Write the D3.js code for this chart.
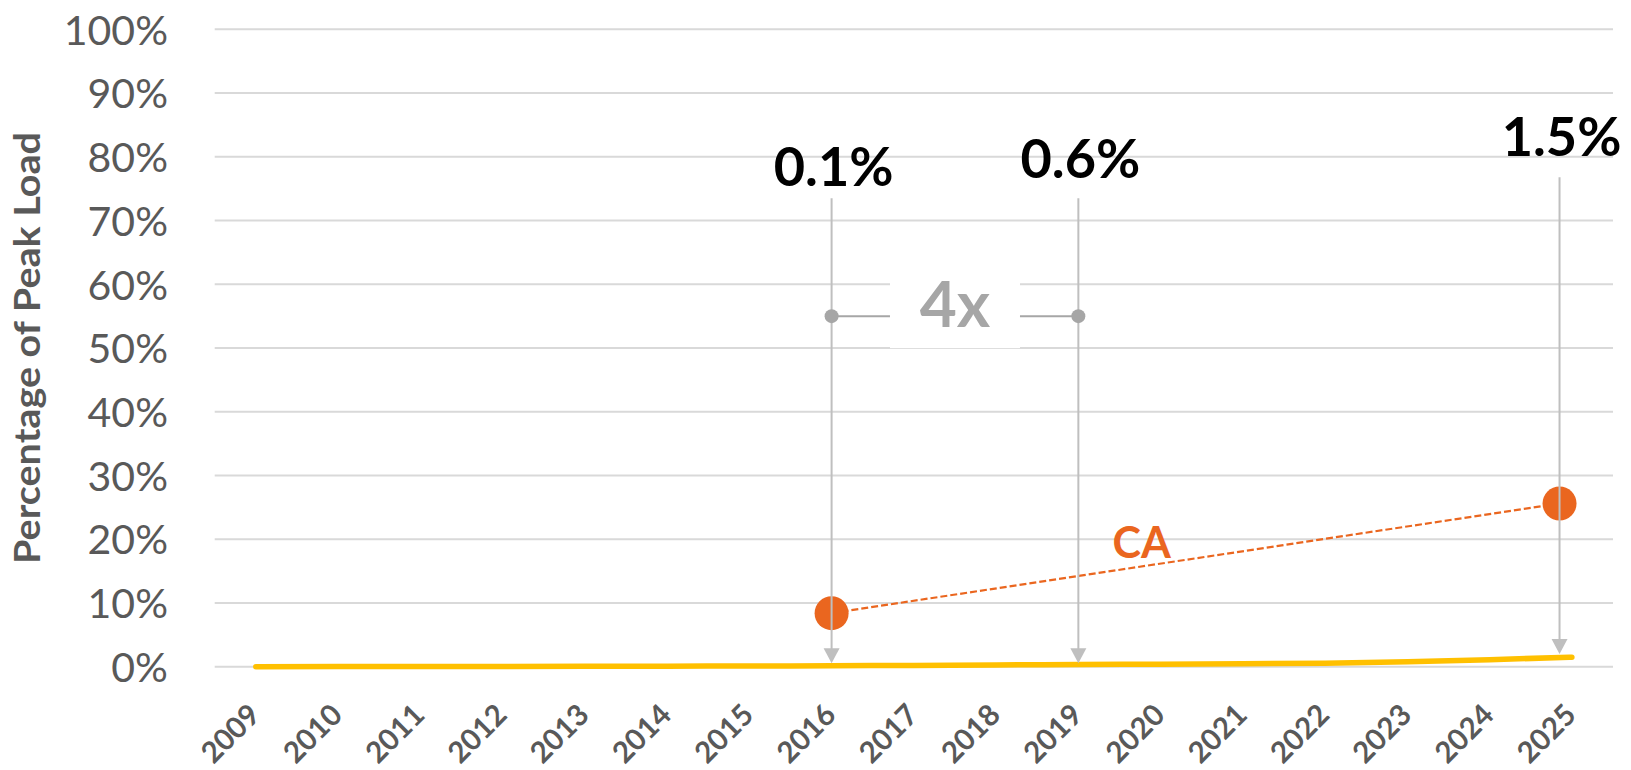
<!DOCTYPE html>
<html><head><meta charset="utf-8">
<script src="https://cdn.jsdelivr.net/npm/d3@7"></script>
<style>
html,body{margin:0;padding:0;background:#fff;}
svg{display:block;}
text{font-family:Lato,"Open Sans",sans-serif;}
</style></head>
<body>
<svg id="chart" width="1631" height="770"></svg>
<script>
// ---- data ----
const years = ["2009","2010","2011","2012","2013","2014","2015","2016","2017","2018","2019","2020","2021","2022","2023","2024","2025"];
const usValues = [0.0,0.02,0.03,0.04,0.06,0.08,0.11,0.15,0.2,0.27,0.35,0.4,0.45,0.55,0.78,1.1,1.5];
const yTicks = [0,10,20,30,40,50,60,70,80,90,100];
const caYears = [2016, 2024.85];
const caValues = [8.4, 25.6];
const caLabel = "CA";
const annoYears = [2016, 2019, 2024.85];
const annoLabels = ["0.1%","0.6%","1.5%"];
const annoLabelLevel = [75.4, 76.7, 80.1];   // label baseline, in % of peak
const annoLineTop = [73.5, 73.5, 76.8];      // top of arrow line, in % of peak
const annoTip = [0.55, 0.55, 2.0];           // arrow tip level, in % of peak
const ratioLabel = "4x";
const ratioLevel = 55;
const yTitle = "Percentage of Peak Load";

// ---- layout ----
const svg = d3.select("#chart");
const pL = 214.7, pR = 1613, pT = 29.3, pB = 666.7;
const x = d3.scaleBand().domain(years).range([pL, pR]);
const bw = x.bandwidth();
const xc = d => x(d) + bw/2;
const xl = d3.scaleLinear().domain([2009, 2025]).range([xc("2009"), xc("2025")]);
const y = d3.scaleLinear().domain([0, 100]).range([pB, pT]);

const grey = "#595959", grid = "#D9D9D9", annoGrey = "#BFBFBF", bracketGrey = "#A6A6A6";
const orange = "#EA661F", gold = "#FFC000";

// gridlines
svg.append("g").selectAll("line").data(yTicks).join("line")
  .attr("x1", pL).attr("x2", pR)
  .attr("y1", d => y(d)).attr("y2", d => y(d))
  .attr("stroke", grid).attr("stroke-width", 2);

// y axis labels
const yAxis = d3.axisLeft(y).tickValues(yTicks).tickFormat(d => d + "%").tickSize(0).tickPadding(0);
const ya = svg.append("g").attr("transform", `translate(168,0)`).call(yAxis);
ya.select(".domain").remove();
ya.selectAll("text").attr("fill", grey).attr("font-size", 41).attr("font-family", "Lato")
  .attr("dy", "0.36em");

// y title
svg.append("text").attr("transform", `translate(40,${(pT+pB)/2}) rotate(-90)`)
  .attr("text-anchor", "middle").attr("font-size", 36).attr("font-weight", 700)
  .attr("textLength", 432).attr("lengthAdjust", "spacingAndGlyphs")
  .attr("fill", grey).text(yTitle);

// x axis labels
const xAxis = d3.axisBottom(x).tickSize(0).tickPadding(0);
const xa = svg.append("g").attr("transform", `translate(0,${pB})`).call(xAxis);
xa.select(".domain").remove();
xa.selectAll("text").attr("fill", grey).attr("font-size", 29.5).attr("font-weight", 700)
  .attr("font-family", "Lato")
  .attr("text-anchor", "end").attr("dy", null).attr("y", null)
  .attr("transform", "translate(6,50) rotate(-45)");

// white gap behind ratio label
const midX = (xl(annoYears[0]) + xl(annoYears[1]))/2;
svg.append("rect").attr("x", midX - 65).attr("width", 130)
  .attr("y", y(ratioLevel) - 48).attr("height", 80).attr("fill", "#fff");

// US line
const line = d3.line().x((d,i) => xc(years[i])).y(d => y(d)).curve(d3.curveMonotoneX);
svg.append("path").datum(usValues).attr("d", line).attr("fill", "none")
  .attr("stroke", gold).attr("stroke-width", 5.5).attr("stroke-linecap", "round");

// CA dashed line and points
svg.append("line")
  .attr("x1", xl(caYears[0])).attr("y1", y(caValues[0]))
  .attr("x2", xl(caYears[1])).attr("y2", y(caValues[1]))
  .attr("stroke", orange).attr("stroke-width", 2.2).attr("stroke-dasharray", "7,3");
svg.append("g").selectAll("circle").data(caValues).join("circle")
  .attr("cx", (d,i) => xl(caYears[i])).attr("cy", d => y(d)).attr("r", 17).attr("fill", orange);
svg.append("text").attr("x", xl(2019.77)).attr("y", y(17.0))
  .attr("text-anchor", "middle").attr("font-size", 43).attr("font-weight", 700)
  .attr("fill", orange).text(caLabel);

// annotation arrows
const ag = svg.append("g");
annoYears.forEach((yr, i) => {
  const ax = xl(yr);
  const tipY = y(annoTip[i]);
  ag.append("line").attr("x1", ax).attr("x2", ax).attr("y1", y(annoLineTop[i])).attr("y2", tipY - 8)
    .attr("stroke", annoGrey).attr("stroke-width", 2);
  ag.append("path").attr("d", `M${ax-8},${tipY-15}L${ax+8},${tipY-15}L${ax},${tipY}Z`).attr("fill", annoGrey);
  ag.append("text").attr("x", ax + 2).attr("y", y(annoLabelLevel[i]))
    .attr("text-anchor", "middle").attr("font-size", 54).attr("font-weight", 700)
    .attr("fill", "#000").text(annoLabels[i]);
});

// ratio bracket
const bx0 = xl(annoYears[0]), bx1 = xl(annoYears[1]), by = y(ratioLevel);
svg.append("line").attr("x1", bx0).attr("x2", midX - 65).attr("y1", by).attr("y2", by)
  .attr("stroke", bracketGrey).attr("stroke-width", 2);
svg.append("line").attr("x1", midX + 65).attr("x2", bx1).attr("y1", by).attr("y2", by)
  .attr("stroke", bracketGrey).attr("stroke-width", 2);
svg.append("g").selectAll("circle").data([bx0, bx1]).join("circle")
  .attr("cx", d => d).attr("cy", by).attr("r", 7).attr("fill", bracketGrey);
svg.append("text").attr("x", midX).attr("y", by + 11)
  .attr("text-anchor", "middle").attr("font-size", 64).attr("font-weight", 700)
  .attr("fill", bracketGrey).text(ratioLabel);
</script>
</body></html>
